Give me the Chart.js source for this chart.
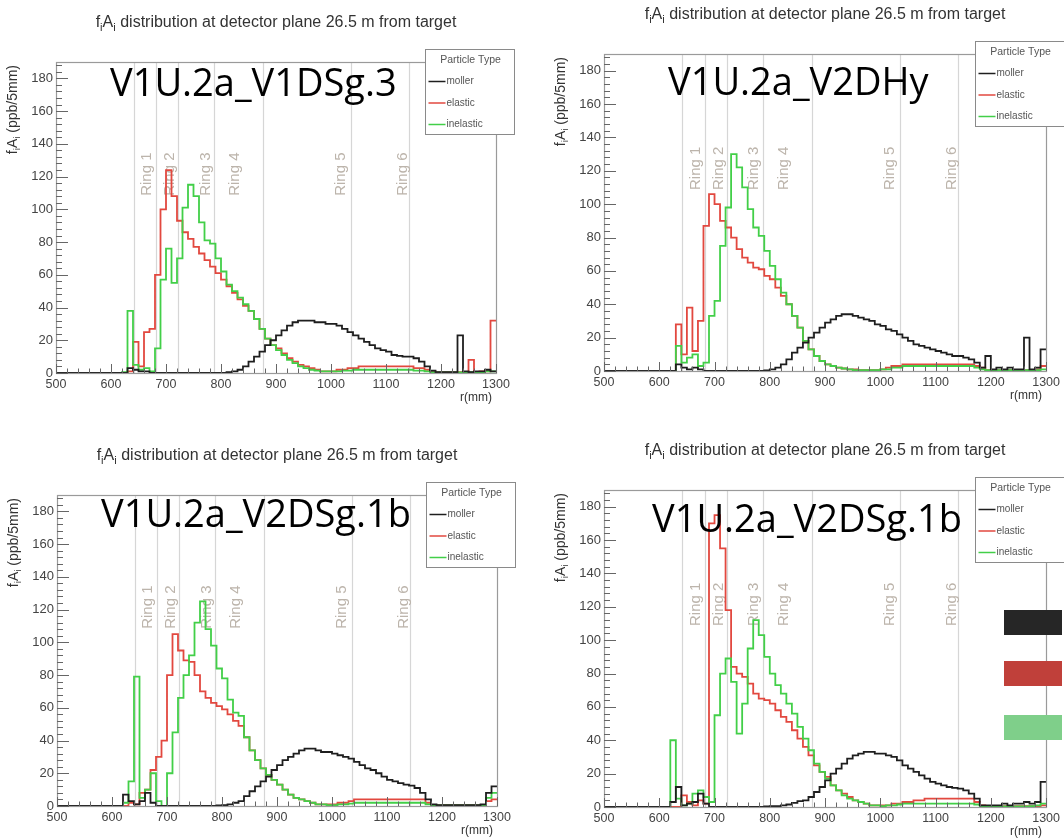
<!DOCTYPE html>
<html>
<head>
<meta charset="utf-8">
<title>fA distribution at detector plane</title>
<script src="https://cdn.jsdelivr.net/npm/chart.js@4.4.1/dist/chart.umd.min.js"></script>
<style>
    body { margin: 0; background: #fff; }
    #page { position: relative; width: 1064px; height: 838px; overflow: hidden; background: #fff; }
    canvas.panel { position: absolute; }
    .tag { position: absolute; font-family: "Open Sans", sans-serif; font-size: 38px; line-height: 38px; color: #000; white-space: nowrap; z-index: 2; }
    .swatch { position: absolute; left: 1004px; width: 58px; height: 25px; z-index: 2; }
</style>
</head>
<body>
<div id="page">
    <canvas id="p0" class="panel" width="532" height="419" style="left:0px;top:0px"></canvas>
    <canvas id="p1" class="panel" width="532" height="419" style="left:532px;top:0px"></canvas>
    <canvas id="p2" class="panel" width="532" height="419" style="left:0px;top:419px"></canvas>
    <canvas id="p3" class="panel" width="532" height="419" style="left:532px;top:419px"></canvas>
</div>
<script>
// left edges of the 10 mm radial bins, r(mm)
const binEdges = [
    500, 510, 520, 530, 540, 550, 560, 570, 580, 590,
    600, 610, 620, 630, 640, 650, 660, 670, 680, 690,
    700, 710, 720, 730, 740, 750, 760, 770, 780, 790,
    800, 810, 820, 830, 840, 850, 860, 870, 880, 890,
    900, 910, 920, 930, 940, 950, 960, 970, 980, 990,
    1000, 1010, 1020, 1030, 1040, 1050, 1060, 1070, 1080, 1090,
    1100, 1110, 1120, 1130, 1140, 1150, 1160, 1170, 1180, 1190,
    1200, 1210, 1220, 1230, 1240, 1250, 1260, 1270, 1280, 1290
];

// V1U.2a_V1DSg.3
const moller1 = [
    0, 0, 0, 0, 0, 0, 0, 0, 0, 0,
    0, 0, 0, 3, 2, 1, 1, 0, 0, 0,
    0, 0, 0, 0, 0, 0, 0, 0, 0, 0,
    0, 0.5, 1, 2, 4, 7, 10, 13, 17, 20,
    23, 26, 29, 31, 32, 32, 32, 31, 31, 30,
    30, 29, 27, 25, 23, 21, 19, 17, 15, 14,
    13, 11, 10.5, 10, 10, 9, 7, 4, 1.5, 0.5,
    0.5, 0.5, 0.5, 23, 1, 0.5, 1, 1, 2, 1
];
const elastic1 = [
    0, 0, 0, 0, 0, 0, 0, 0, 0, 0,
    0, 0, 0, 1, 19, 4, 25, 27, 60, 100,
    124, 108, 93, 86, 82, 77, 73, 69, 65, 61,
    57, 53, 49, 45, 41, 38, 33, 27, 21, 17,
    15, 12, 9, 7, 5, 4, 3, 2, 1, 1,
    1, 2, 2, 3, 3, 4, 4, 4, 4, 4,
    4, 4, 4, 4, 4, 3, 3, 2, 1, 0.3,
    0.3, 0.3, 0.3, 0.5, 0.5, 8, 0.5, 1, 1, 32
];
const inelastic1 = [
    0, 0, 0, 0, 0, 0, 0, 0, 0, 0,
    0, 0, 0.5, 38, 5, 2, 3, 1, 15, 57,
    76, 55, 70, 101, 115, 108, 92, 81, 79, 70,
    62, 54, 50, 46, 42, 38, 33, 27, 21, 17,
    14, 11, 8, 6, 4, 3, 2, 1.5, 1, 1,
    1, 1, 1.5, 1.5, 2, 2, 2, 2, 2, 2,
    2, 2, 2, 2, 2, 1.5, 1.5, 1, 0.5, 0.3,
    0.3, 0.3, 0.3, 0.3, 0.3, 0.5, 0.5, 0.5, 1, 1
];

// V1U.2a_V2DHy
const moller2 = [
    0, 0, 0, 0, 0, 0, 0, 0, 0, 0,
    0, 0, 0, 4, 2, 1, 2, 1, 0, 0,
    0, 0, 0, 0, 0, 0, 0, 0, 0, 0.3,
    1, 2, 4, 7, 11, 14, 17, 20, 23, 26,
    29, 31, 33, 34, 34, 33, 32, 31, 30, 28,
    27, 25, 24, 22, 20, 18, 16, 15, 14, 13,
    12, 11, 10, 9, 9, 8, 7, 5, 2, 9,
    1, 2, 1, 2, 1, 1, 20, 1, 2, 13
];
const elastic2 = [
    0, 0, 0, 0, 0, 0, 0, 0, 0, 0,
    0, 0, 0, 28, 10, 38, 12, 30, 87, 106,
    100, 90, 86, 80, 73, 68, 65, 62, 61, 57,
    55, 50, 45, 40, 33, 26, 18, 13, 9, 6,
    4, 3, 2, 1.5, 1, 1, 0.5, 0.5, 0.5, 0.5,
    1, 2, 3, 3, 4, 4, 4, 4, 4, 4,
    4, 4, 4, 4, 4, 4, 4, 3, 2, 0.5,
    0.5, 0.5, 0.5, 0.5, 0.5, 0.5, 0.5, 0.5, 1, 3
];
const inelastic2 = [
    0, 0, 0, 0, 0, 0, 0, 0, 0, 0,
    0, 0, 0, 15, 5, 8, 10, 3, 5, 33,
    42, 75, 98, 130, 122, 110, 97, 86, 81, 72,
    63, 55, 47, 40, 33, 26, 18, 13, 9, 6,
    4, 3, 2, 1.5, 1, 0.5, 0.5, 0.5, 0.5, 0.5,
    1, 1, 2, 2, 3, 3, 3, 3, 3, 3,
    3, 3, 3, 3, 3, 3, 3, 2, 1, 0.5,
    0.5, 0.5, 0.5, 0.5, 0.5, 0.5, 0.5, 0.5, 0.5, 1
];

// V1U.2a_V2DSg.1b (lower left)
const moller3 = [
    0, 0, 0, 0, 0, 0, 0, 0, 0, 0,
    0, 0, 7, 3, 1, 3, 8, 2, 0, 0,
    0, 0, 0, 0, 0, 0, 0, 0, 0, 0.3,
    0.5, 1, 2, 3, 6, 9, 12, 15, 18, 22,
    25, 28, 30, 32, 34, 35, 35, 34, 33, 33,
    32, 31, 30, 29, 27, 25, 23, 22, 20, 18,
    16, 15, 14, 13, 12.5, 11, 8, 4, 1, 0.5,
    0.5, 0.5, 0.5, 0.5, 0.5, 0.5, 0.5, 1, 8, 12
];
const elastic3 = [
    0, 0, 0, 0, 0, 0, 0, 0, 0, 0,
    0, 0, 0, 2, 1, 8, 10, 22, 30, 40,
    80, 105, 95, 89, 88, 80, 70, 66, 63, 61,
    59, 56, 52, 49, 42, 34, 28, 23, 19, 16,
    13, 10, 7, 5, 4, 3, 2, 1, 1, 1,
    1, 2, 2, 3, 4, 4, 4, 4, 4, 4,
    4, 4, 4, 4, 4, 4, 4, 2, 0.5, 0.3,
    0.3, 0.3, 0.3, 0.3, 0.3, 0.3, 0.3, 0.5, 3, 4
];
const inelastic3 = [
    0, 0, 0, 0, 0, 0, 0, 0, 0, 0,
    0, 0, 2, 15, 79, 5, 10, 20, 3, 0,
    20, 45, 66, 80, 92, 112, 125, 108, 98, 84,
    78, 65, 57, 55, 42, 34, 28, 23, 19, 16,
    13, 10, 7, 5, 4, 3, 2, 1, 1, 0.5,
    0.5, 1, 1, 1.5, 2, 2, 2, 2, 2, 2,
    2, 2, 2, 2, 2, 2, 2, 1, 0.5, 0.3,
    0.3, 0.3, 0.3, 0.3, 0.3, 0.3, 0.3, 0.5, 5, 8
];

// V1U.2a_V2DSg.1b (lower right)
const moller4 = [
    0, 0, 0, 0, 0, 0, 0, 0, 0, 0,
    0, 0, 3, 12, 1, 2, 3, 8, 2, 0,
    0, 0, 0, 0, 0, 0, 0, 0, 0, 0.3,
    0.5, 0.5, 1, 1.5, 2.5, 3.5, 4, 6, 9, 12,
    16, 20, 23, 26, 29, 31, 32, 33, 33, 32,
    32, 31, 30, 28, 25, 23, 21, 19, 17, 15,
    14, 13, 12, 11.5, 11, 10, 8, 5, 1, 1,
    1, 1, 2, 1, 2, 2, 3, 2, 3, 15
];
const elastic4 = [
    0, 0, 0, 0, 0, 0, 0, 0, 0, 0,
    0, 0, 0, 0, 7, 3, 1, 4, 2, 170,
    175, 155, 118, 84, 80, 78, 74, 68, 65, 64,
    62, 58, 54, 51, 46, 41, 36, 31, 25, 21,
    18, 13, 10, 8, 6, 4, 3, 2, 1, 1,
    1, 1, 2, 2, 3, 3, 4, 4, 5, 5,
    5, 5, 5, 5, 5, 5, 5, 3, 1, 0.5,
    0.5, 0.5, 0.5, 0.5, 0.5, 0.5, 0.5, 0.5, 0.5, 1
];
const inelastic4 = [
    0, 0, 0, 0, 0, 0, 0, 0, 0, 0,
    0, 0, 40, 5, 1, 2, 8, 10, 6, 3,
    55, 80, 89, 75, 44, 62, 95, 112, 103, 90,
    80, 73, 68, 62, 56, 48, 41, 34, 26, 21,
    17, 13, 10, 7, 5, 4, 3, 2, 1, 1,
    0.5, 1, 1, 1.5, 2, 2, 2, 2, 2, 2,
    2, 2, 2, 2, 2, 2, 2, 1.5, 0.5, 0.3,
    0.3, 0.3, 0.3, 0.3, 0.3, 0.3, 0.3, 0.5, 1, 2
];

const panelNames = ["V1U.2a_V1DSg.3", "V1U.2a_V2DHy", "V1U.2a_V2DSg.1b", "V1U.2a_V2DSg.1b"];
const seriesNames = ["moller", "elastic", "inelastic"];
const panelSeries = [
    [moller1, elastic1, inelastic1],
    [moller2, elastic2, inelastic2],
    [moller3, elastic3, inelastic3],
    [moller4, elastic4, inelastic4]
];
const ringEdges = [642, 682, 722, 787, 876, 1036, 1141];
const ringNames = ["Ring 1", "Ring 2", "Ring 3", "Ring 4", "Ring 5", "Ring 6"];
const ringLabelX = [666, 707, 772, 826, 1018, 1130];
const swatchColors = ["#262626", "#c0403a", "#7fcf8a"];

// where each frame sits inside its 532x419 canvas, and where the slide label goes
const layout = [
    { canvas: "p0", left: 56, right: 496, top: 62, bottom: 373, tagX: 110, tagBase: 96 },
    { canvas: "p1", left: 72, right: 517, top: 54, bottom: 371, tagX: 668, tagBase: 95 },
    { canvas: "p2", left: 57, right: 497, top: 76, bottom: 387, tagX: 101, tagBase: 527 },
    { canvas: "p3", left: 72, right: 517, top: 71, bottom: 388, tagX: 652, tagBase: 532 }
];

const lineColors = { moller: "#1e1e1e", elastic: "#e2483f", inelastic: "#42cf48" };
const FONT = '"Liberation Sans", Arial, sans-serif';

function histPoints(vals) {
    const pts = binEdges.map((x, i) => ({ x: x, y: vals[i] }));
    pts.push({ x: 1300, y: vals[vals.length - 1] });
    return pts;
}

// text pieces given as [text, isSubscript]
function partsWidth(ctx, parts, size) {
    let w = 0;
    parts.forEach(p => {
        ctx.font = (p[1] ? size * 0.7 : size) + "px " + FONT;
        w += ctx.measureText(p[0]).width;
    });
    return w;
}

function drawParts(ctx, parts, size, x, y) {
    let cx = x;
    parts.forEach(p => {
        ctx.font = (p[1] ? size * 0.7 : size) + "px " + FONT;
        ctx.fillText(p[0], cx, p[1] ? y + size * 0.3 : y);
        cx += ctx.measureText(p[0]).width;
    });
}

const titleParts = [["f", 0], ["i", 1], ["A", 0], ["i", 1], [" distribution at detector plane 26.5 m from target", 0]];
const yTitleParts = [["f", 0], ["i", 1], ["A", 0], ["i", 1], [" (ppb/5mm)", 0]];

const rootDecor = {
    id: "rootDecor",
    beforeDatasetsDraw(chart) {
        const ctx = chart.ctx;
        const a = chart.chartArea;
        const xs = chart.scales.x, ys = chart.scales.y;
        ctx.save();
        ctx.strokeStyle = "#d6d6d6";
        ctx.lineWidth = 1.2;
        ringEdges.forEach(r => {
            const px = Math.round(xs.getPixelForValue(r)) + 0.5;
            ctx.beginPath();
            ctx.moveTo(px, a.top);
            ctx.lineTo(px, a.bottom);
            ctx.stroke();
        });
        ctx.fillStyle = "#bcb4ab";
        ctx.font = "15px " + FONT;
        ctx.textAlign = "center";
        ctx.textBaseline = "middle";
        ringLabelX.forEach((r, i) => {
            ctx.save();
            ctx.translate(xs.getPixelForValue(r), ys.getPixelForValue(121.5));
            ctx.rotate(-Math.PI / 2);
            ctx.fillText(ringNames[i], 0, 0);
            ctx.restore();
        });
        ctx.restore();
    },
    afterDatasetsDraw(chart) {
        const ctx = chart.ctx;
        const a = chart.chartArea;
        const xs = chart.scales.x, ys = chart.scales.y;
        ctx.save();

        // frame
        ctx.strokeStyle = "#9a9a9a";
        ctx.lineWidth = 1.2;
        ctx.strokeRect(Math.round(a.left) + 0.5, Math.round(a.top) + 0.5, Math.round(a.right - a.left), Math.round(a.bottom - a.top));

        // inward ticks
        ctx.strokeStyle = "#666";
        ctx.lineWidth = 1;
        ctx.beginPath();
        for (let v = 500; v <= 1300; v += 20) {
            const px = Math.round(xs.getPixelForValue(v)) + 0.5;
            const len = v % 100 === 0 ? 9 : 4.5;
            ctx.moveTo(px, a.bottom);
            ctx.lineTo(px, a.bottom - len);
        }
        for (let v = 0; v <= 188; v += 4) {
            const py = Math.round(ys.getPixelForValue(v)) + 0.5;
            const len = v % 20 === 0 ? 12 : 6;
            ctx.moveTo(a.left, py);
            ctx.lineTo(a.left + len, py);
        }
        ctx.stroke();

        // legend box
        const lx = Math.round(a.right - 71) + 0.5, ly = Math.round(a.top - 13) + 0.5;
        ctx.fillStyle = "#fff";
        ctx.fillRect(lx, ly, 89, 85);
        ctx.strokeStyle = "#8a8a8a";
        ctx.strokeRect(lx, ly, 89, 85);
        ctx.fillStyle = "#555";
        ctx.textAlign = "center";
        ctx.textBaseline = "middle";
        ctx.font = "10.5px " + FONT;
        ctx.fillText("Particle Type", lx + 45, ly + 11);
        ctx.textAlign = "left";
        ctx.font = "10px " + FONT;
        seriesNames.forEach((name, i) => {
            const ey = ly + 32 + i * 21.5;
            ctx.strokeStyle = lineColors[name];
            ctx.lineWidth = 1.5;
            ctx.beginPath();
            ctx.moveTo(lx + 3, ey);
            ctx.lineTo(lx + 20, ey);
            ctx.stroke();
            ctx.fillStyle = "#555";
            ctx.fillText(name, lx + 21, ey);
        });

        // main title
        ctx.fillStyle = "#333";
        ctx.textAlign = "left";
        ctx.textBaseline = "middle";
        const tw = partsWidth(ctx, titleParts, 16);
        drawParts(ctx, titleParts, 16, (a.left + a.right) / 2 - tw / 2, a.top - 39);

        // y axis title, top aligned
        ctx.save();
        ctx.translate(a.left - 43, a.top + 3);
        ctx.rotate(-Math.PI / 2);
        const yw = partsWidth(ctx, yTitleParts, 14);
        drawParts(ctx, yTitleParts, 14, -yw, 0);
        ctx.restore();

        // x axis title
        ctx.font = "12px " + FONT;
        ctx.textAlign = "right";
        ctx.fillText("r(mm)", a.right - 4, a.bottom + 25);

        ctx.restore();
    }
};

layout.forEach((L, p) => {
    const series = panelSeries[p];
    const datasets = [0, 2, 1].map(k => ({
        label: seriesNames[k],
        data: histPoints(series[k]),
        borderColor: lineColors[seriesNames[k]],
        borderWidth: 1.8,
        stepped: "before",
        pointRadius: 0,
        fill: false
    }));

    new Chart(document.getElementById(L.canvas), {
        type: "line",
        data: { datasets: datasets },
        options: {
            responsive: false,
            animation: false,
            events: [],
            layout: { padding: { left: 0, right: 532 - L.right, top: L.top, bottom: 0 } },
            plugins: { legend: { display: false }, tooltip: { enabled: false } },
            scales: {
                x: {
                    type: "linear",
                    min: 500,
                    max: 1300,
                    afterFit: s => { s.height = 419 - L.bottom; },
                    grid: { display: false, drawTicks: false },
                    border: { display: false },
                    ticks: { stepSize: 100, padding: 4, maxRotation: 0, autoSkip: false, color: "#444", font: { family: FONT, size: 12.5 }, callback: v => String(v) }
                },
                y: {
                    min: 0,
                    max: 190,
                    afterFit: s => { s.width = L.left; },
                    afterBuildTicks: s => { s.ticks = s.ticks.filter(t => t.value % 20 === 0); },
                    grid: { display: false, drawTicks: false },
                    border: { display: false },
                    ticks: { stepSize: 20, padding: 3, color: "#444", font: { family: FONT, size: 13 }, callback: v => String(v) }
                }
            }
        },
        plugins: [rootDecor]
    });

    const tag = document.createElement("div");
    tag.className = "tag";
    tag.textContent = panelNames[p];
    tag.style.left = L.tagX + "px";
    tag.style.top = (L.tagBase - 34) + "px";
    document.getElementById("page").appendChild(tag);
});

const swatchTops = [610, 661, 715];
swatchColors.forEach((c, i) => {
    const sw = document.createElement("div");
    sw.className = "swatch";
    sw.style.top = swatchTops[i] + "px";
    sw.style.background = c;
    document.getElementById("page").appendChild(sw);
});
</script>
</body>
</html>
